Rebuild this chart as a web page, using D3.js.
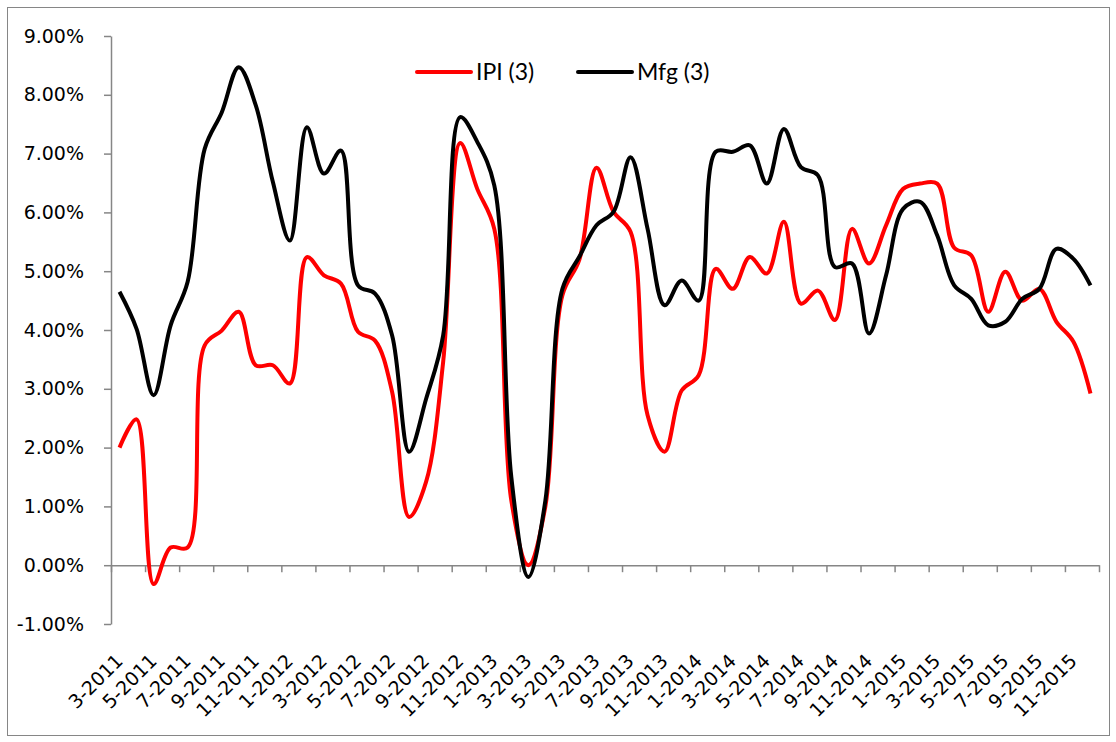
<!DOCTYPE html>
<html>
<head>
<meta charset="utf-8">
<script src="https://cdn.jsdelivr.net/npm/d3@7"></script>
<style>
  body { margin: 0; background: #fff; }
  svg { display: block; }
  .axis path, .axis line { stroke: #868686; stroke-width: 1.5; }
  .axis text { font-family: "DejaVu Sans", Verdana, sans-serif; font-size: 19px; fill: #000; }
  .legend text { font-family: Lato, "Open Sans", sans-serif; font-size: 23px; fill: #000; }
</style>
</head>
<body>
<svg width="1116" height="742"></svg>
<script>
// monthly categories, 3-2011 .. 12-2015
var months = ["3-2011","4-2011","5-2011","6-2011","7-2011","8-2011","9-2011","10-2011","11-2011","12-2011",
  "1-2012","2-2012","3-2012","4-2012","5-2012","6-2012","7-2012","8-2012","9-2012","10-2012","11-2012","12-2012",
  "1-2013","2-2013","3-2013","4-2013","5-2013","6-2013","7-2013","8-2013","9-2013","10-2013","11-2013","12-2013",
  "1-2014","2-2014","3-2014","4-2014","5-2014","6-2014","7-2014","8-2014","9-2014","10-2014","11-2014","12-2014",
  "1-2015","2-2015","3-2015","4-2015","5-2015","6-2015","7-2015","8-2015","9-2015","10-2015","11-2015","12-2015"];

// series values in percent
var ipi = [2.00, 2.48, -0.32, 0.30, 0.30, 3.74, 3.99, 4.31, 3.40, 3.40,
  3.09, 5.24, 4.93, 4.79, 3.97, 3.82, 2.95, 0.82, 1.42, 3.46, 7.18, 6.40,
  5.72, 1.10, 0.00, 1.00, 4.59, 5.20, 6.76, 6.01, 5.67, 2.55, 1.93, 2.97,
  3.23, 5.04, 4.70, 5.24, 4.96, 5.84, 4.45, 4.67, 4.17, 5.72, 5.13, 5.78,
  6.40, 6.49, 6.49, 5.40, 5.27, 4.31, 4.99, 4.50, 4.70, 4.14, 3.80, 2.92];

var mfg = [4.65, 4.02, 2.89, 4.08, 4.82, 7.08, 7.70, 8.47, 7.82, 6.52,
  5.52, 7.45, 6.66, 7.05, 4.76, 4.62, 3.91, 1.93, 2.83, 3.91, 7.62, 7.20,
  6.46, 1.50, -0.20, 1.10, 4.70, 5.25, 5.78, 6.01, 6.94, 5.72, 4.42, 4.84,
  4.50, 7.03, 7.03, 7.14, 6.49, 7.42, 6.77, 6.63, 5.07, 5.13, 3.94, 4.93,
  6.06, 6.18, 5.61, 4.76, 4.53, 4.08, 4.14, 4.53, 4.70, 5.38, 5.21, 4.76];

var yTicks = [-1, 0, 1, 2, 3, 4, 5, 6, 7, 8, 9];
var seriesNames = ["IPI (3)", "Mfg (3)"];
var seriesColors = ["#ff0000", "#000000"];

var svg = d3.select("svg");

// outer chart frame
svg.append("rect")
    .attr("x", 7.5).attr("y", 7.5)
    .attr("width", 1102).attr("height", 728)
    .attr("fill", "none").attr("stroke", "#868686").attr("stroke-width", 1);

var left = 111, right = 1099;

var x = d3.scaleBand().domain(months).range([left, right]).padding(0);
// linear index scale for the tick marks between category pairs
var xi = d3.scaleLinear().domain([0, months.length]).range([left, right]);
var y = d3.scaleLinear().domain([-1, 9]).range([624, 36]);

var cx = function(d, i) { return x(months[i]) + x.bandwidth() / 2; };

// y axis
svg.append("g")
    .attr("class", "axis")
    .attr("transform", "translate(" + left + ",0)")
    .call(d3.axisLeft(y).tickValues(yTicks).tickSize(7).tickSizeOuter(0).tickPadding(20)
      .tickFormat(function(d) { return d.toFixed(2) + "%"; }));

// x axis line + tick marks
svg.append("g")
    .attr("class", "axis")
    .attr("transform", "translate(0," + y(0) + ")")
    .call(d3.axisBottom(xi).tickValues(d3.range(0, months.length + 1, 2)).tickSize(7).tickSizeOuter(0).tickFormat(""));

// x labels, every second month, rotated
var xLab = svg.append("g")
    .attr("class", "axis")
    .attr("transform", "translate(0," + y(0) + ")")
    .call(d3.axisBottom(x).tickValues(months.filter(function(d, i) { return i % 2 === 0; })).tickSize(0));
xLab.select(".domain").remove();
xLab.selectAll("text")
    .attr("y", null).attr("dy", null)
    .attr("text-anchor", "end")
    .attr("transform", "translate(4.5,97) rotate(-45)");

// lines
var line = d3.line()
    .x(cx)
    .y(function(d) { return y(d); })
    .curve(d3.curveCatmullRom.alpha(0.5));

[ipi, mfg].forEach(function(s, k) {
  svg.append("path")
      .datum(s)
      .attr("fill", "none")
      .attr("stroke", seriesColors[k])
      .attr("stroke-width", 4)
      .attr("stroke-linejoin", "round")
      .attr("d", line);
});

// legend
var legendX = [417, 578];
var lg = svg.append("g").attr("class", "legend");
seriesNames.forEach(function(n, k) {
  lg.append("line")
      .attr("x1", legendX[k]).attr("x2", legendX[k] + 54)
      .attr("y1", 72).attr("y2", 72)
      .attr("stroke", seriesColors[k]).attr("stroke-width", 4).attr("stroke-linecap", "round");
  lg.append("text")
      .attr("x", legendX[k] + 59).attr("y", 72)
      .attr("dy", "0.35em")
      .text(n);
});
</script>
</body>
</html>
